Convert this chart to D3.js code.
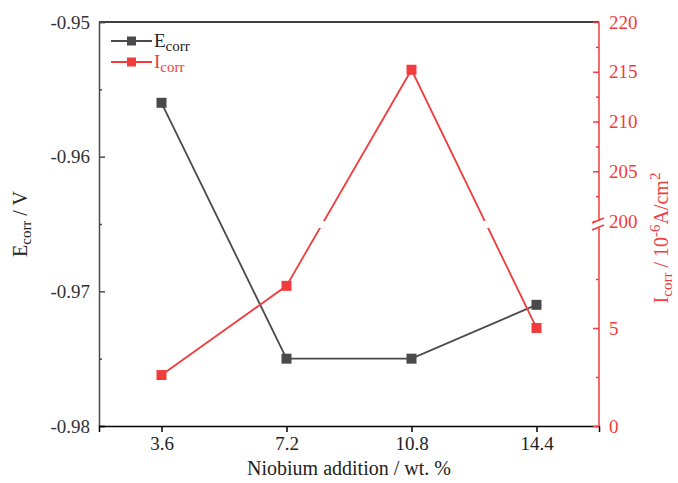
<!DOCTYPE html>
<html>
<head>
<meta charset="utf-8">
<script src="https://cdn.jsdelivr.net/npm/d3@7"></script>
<style>
  body { margin: 0; background: #fff; }
</style>
</head>
<body>
<div class="graphic"></div>
<script>
// data
const niobium = [3.6, 7.2, 10.8, 14.4];
const eCorr = [-0.956, -0.975, -0.975, -0.971];
const iCorr = [2.6, 7.15, 215.2, 5.0];
const xTicks = [3.6, 7.2, 10.8, 14.4];
const eTicks = [-0.98, -0.97, -0.96, -0.95];
const iLowTicks = [0, 5];
const iHighTicks = [200, 205, 210, 215, 220];

const width = 678, height = 483;
const margin = {top: 22, right: 79, bottom: 57, left: 99};
const W = width - margin.left - margin.right;
const H = height - margin.top - margin.bottom;

const grey = "#4a4a4a", red = "#f03c3c";
const serif = "Liberation Serif";

const svg = d3.select(".graphic").append("svg")
    .attr("width", width)
    .attr("height", height);
const g = svg.append("g")
    .attr("transform", "translate(" + margin.left + "," + margin.top + ")");

const x = d3.scaleLinear().domain([1.8, 16.2]).range([0, W]);
const yE = d3.scaleLinear().domain([-0.98, -0.95]).range([H, 0]);

// broken right axis: low part and high part
const breakLow = 206, breakHigh = 199;
const yLow = d3.scaleLinear().domain([0, 10.1]).range([H, breakLow]);
const yHigh = d3.scaleLinear().domain([200, 220]).range([breakHigh, 0]);
function yI(v) { return v > 100 ? yHigh(v) : yLow(v); }

// clip which leaves a gap at the break
const clip = svg.append("defs").append("clipPath").attr("id", "gap");
clip.append("rect").attr("x", -20).attr("y", -20).attr("width", W + 40).attr("height", breakHigh + 20);
clip.append("rect").attr("x", -20).attr("y", breakLow).attr("width", W + 40).attr("height", H - breakLow + 20);

function styleAxis(a, color) {
    a.attr("font-family", null).attr("font-size", null);
    a.selectAll(".tick line").attr("stroke", color).attr("stroke-width", 1.5);
    a.selectAll(".tick text").attr("fill", color).style("font-size", "19px");
}

// frame top
g.append("line").attr("x1", 0).attr("x2", W).attr("y1", 0).attr("y2", 0)
    .attr("stroke", "#000").attr("stroke-width", 1.5);

// left axis
const leftAxis = g.append("g")
    .call(d3.axisLeft(yE).tickValues(eTicks).tickSize(-6).tickPadding(9).tickFormat(d3.format(".2f")));
styleAxis(leftAxis, grey);
leftAxis.selectAll(".tick text").attr("fill", "#333").text(d => d3.format(".2f")(d).replace("−", "-"));
leftAxis.select(".domain").attr("stroke", grey).attr("stroke-width", 1.5);
g.append("g")
    .call(d3.axisLeft(yE).tickValues([-0.975, -0.965, -0.955]).tickSize(-3).tickFormat(""))
    .call(s => s.select(".domain").remove())
    .selectAll("line").attr("stroke", grey).attr("stroke-width", 1.5);

// bottom axis
const bottomAxis = g.append("g").attr("transform", "translate(0," + H + ")")
    .call(d3.axisBottom(x).tickValues(xTicks).tickSize(6).tickPadding(5).tickFormat(d3.format(".1f")));
styleAxis(bottomAxis, "#000");
bottomAxis.selectAll(".tick text").attr("fill", "#222");
bottomAxis.select(".domain").attr("stroke", "#000").attr("stroke-width", 1.5);

// right axis (broken)
const right = g.append("g").attr("transform", "translate(" + W + ",0)");
right.append("line").attr("x1", 0).attr("x2", 0).attr("y1", 0).attr("y2", H)
    .attr("stroke", red).attr("stroke-width", 1.5);
const rLow = right.append("g")
    .call(d3.axisRight(yLow).tickValues(iLowTicks).tickSize(-6).tickPadding(10).tickFormat(d3.format("d")));
const rHigh = right.append("g")
    .call(d3.axisRight(yHigh).tickValues(iHighTicks).tickSize(-6).tickPadding(10).tickFormat(d3.format("d")));
[rLow, rHigh].forEach(a => {
    a.select(".domain").remove();
    styleAxis(a, red);
});
right.append("g")
    .call(d3.axisRight(yLow).tickValues([2.5, 7.5]).tickSize(-3).tickFormat(""))
    .call(s => s.select(".domain").remove())
    .selectAll("line").attr("stroke", red).attr("stroke-width", 1.5);
right.append("g")
    .call(d3.axisRight(yHigh).tickValues([202.5, 207.5, 212.5, 217.5]).tickSize(-3).tickFormat(""))
    .call(s => s.select(".domain").remove())
    .selectAll("line").attr("stroke", red).attr("stroke-width", 1.5);
// break marks
right.append("rect").attr("x", -3).attr("y", breakHigh).attr("width", 6).attr("height", breakLow - breakHigh)
    .attr("fill", "#fff");
[breakHigh - 1, breakLow - 1].forEach(yy => {
    right.append("line").attr("x1", -7).attr("x2", 5).attr("y1", yy + 3).attr("y2", yy - 2)
        .attr("stroke", red).attr("stroke-width", 1.5);
});

// series
const lineE = d3.line().x((d, i) => x(niobium[i])).y(d => yE(d));
const lineI = d3.line().x((d, i) => x(niobium[i])).y(d => yI(d));

g.append("path").datum(eCorr).attr("d", lineE)
    .attr("fill", "none").attr("stroke", grey).attr("stroke-width", 1.8);
g.append("path").datum(iCorr).attr("d", lineI).attr("clip-path", "url(#gap)")
    .attr("fill", "none").attr("stroke", red).attr("stroke-width", 1.8);

const ms = 10;
g.selectAll("rect.e").data(eCorr).enter().append("rect").attr("class", "e")
    .attr("x", (d, i) => x(niobium[i]) - ms / 2).attr("y", d => yE(d) - ms / 2)
    .attr("width", ms).attr("height", ms).attr("fill", grey);
g.selectAll("rect.i").data(iCorr).enter().append("rect").attr("class", "i")
    .attr("x", (d, i) => x(niobium[i]) - ms / 2).attr("y", d => yI(d) - ms / 2)
    .attr("width", ms).attr("height", ms).attr("fill", red);

// legend
const legend = g.append("g").attr("transform", "translate(12,19)");
const items = [{label: "E", sub: "corr", color: grey, text: "#222"}, {label: "I", sub: "corr", color: red, text: red}];
items.forEach((d, i) => {
    const row = legend.append("g").attr("transform", "translate(0," + (i * 21) + ")");
    row.append("line").attr("x1", 0).attr("x2", 41).attr("stroke", d.color).attr("stroke-width", 1.8);
    row.append("rect").attr("x", 16).attr("y", -4.5).attr("width", 9).attr("height", 9).attr("fill", d.color);
    const t = row.append("text").attr("x", 43).attr("y", 6).attr("fill", d.text).style("font-size", "19px");
    t.append("tspan").text(d.label);
    t.append("tspan").attr("dy", 4).style("font-size", "15px").text(d.sub);
});

// axis titles
const tl = svg.append("text").attr("transform", "translate(27," + (margin.top + H / 2) + ") rotate(-90)")
    .attr("text-anchor", "middle").attr("fill", "#222").style("font-size", "20px");
tl.append("tspan").text("E");
tl.append("tspan").attr("dy", 4).style("font-size", "15px").text("corr");
tl.append("tspan").attr("dy", -4).text(" / V");

const tr = svg.append("text").attr("transform", "translate(668," + (margin.top + H / 2 + 14) + ") rotate(-90)")
    .attr("text-anchor", "middle").attr("fill", red).style("font-size", "20px");
tr.append("tspan").text("I");
tr.append("tspan").attr("dy", 4).style("font-size", "15px").text("corr");
tr.append("tspan").attr("dy", -4).text(" / 10");
tr.append("tspan").attr("dy", -8).style("font-size", "15px").text("-6");
tr.append("tspan").attr("dy", 8).text("A/cm");
tr.append("tspan").attr("dy", -8).style("font-size", "15px").text("2");

svg.append("text").attr("x", margin.left + W / 2).attr("y", 475)
    .attr("text-anchor", "middle").attr("fill", "#222").style("font-size", "20px")
    .text("Niobium addition / wt. %");

// one serif face for every label
svg.selectAll("text").style("font-family", serif);
</script>
</body>
</html>
